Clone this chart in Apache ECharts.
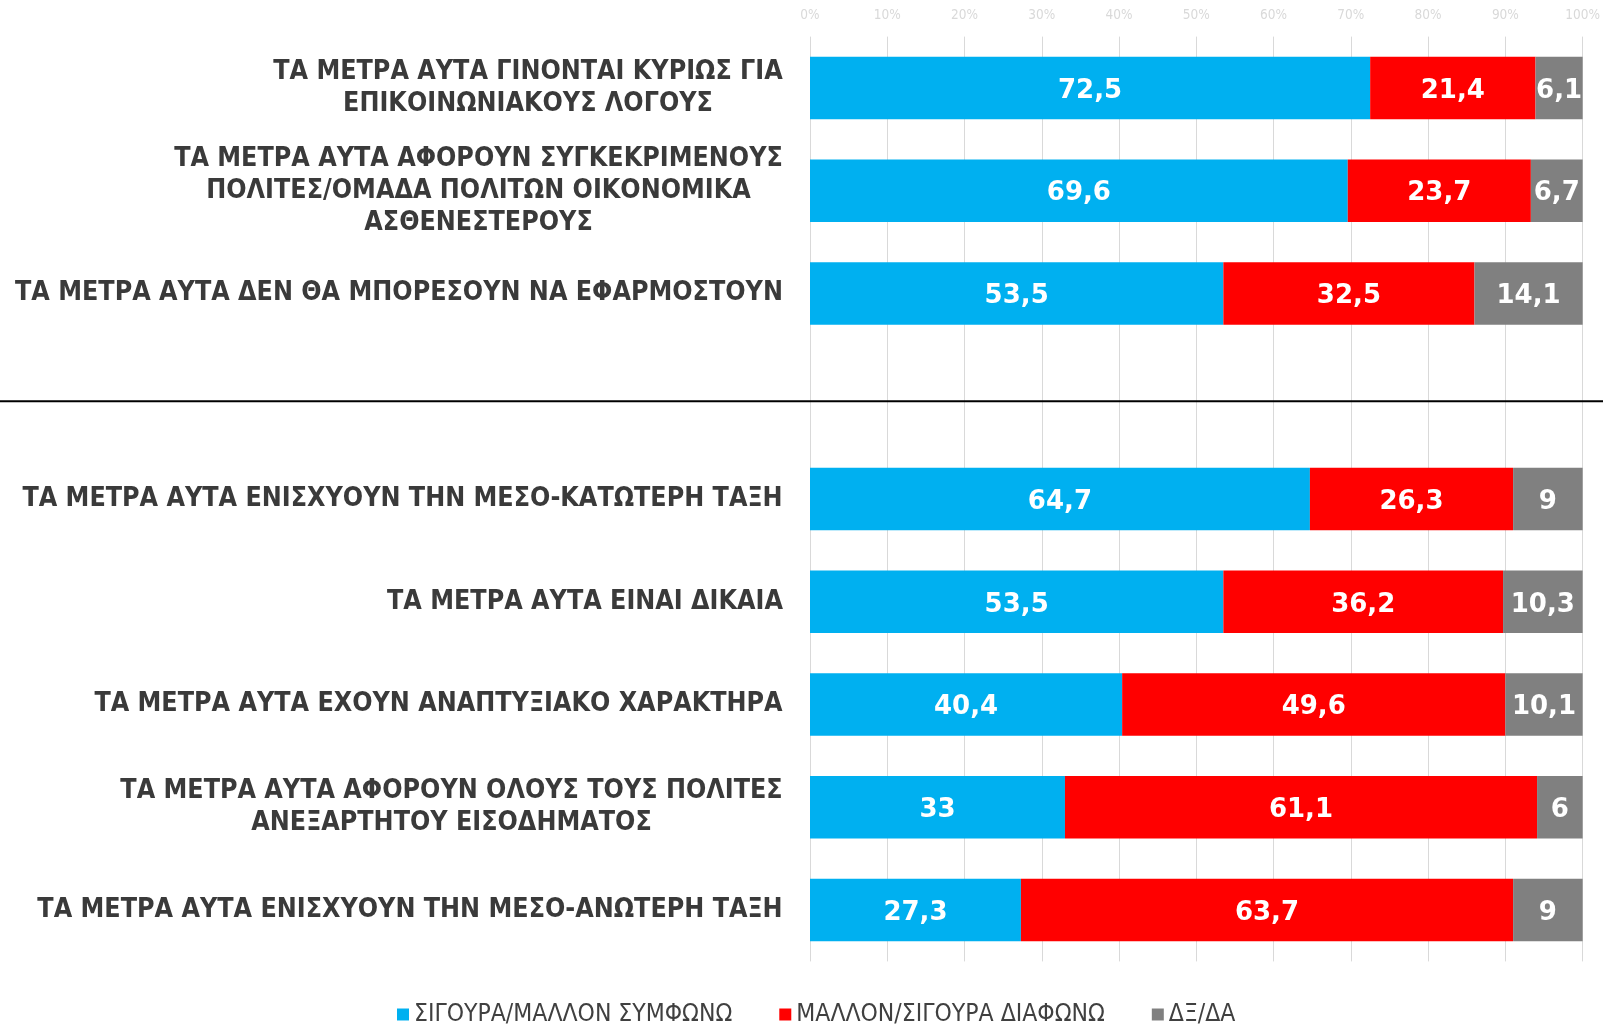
<!DOCTYPE html>
<html>
<head>
<meta charset="utf-8">
<script src="https://cdn.jsdelivr.net/npm/echarts@6/dist/echarts.min.js"></script>
<style>
  html, body { margin: 0; padding: 0; background: #fff; }
  #chart { width: 1603px; height: 1024px; }
</style>
</head>
<body>
<div id="chart"></div>
<script>
// κατηγορίες (η κενή είναι το διαχωριστικό)
const categories = [
  'ΤΑ ΜΕΤΡΑ ΑΥΤΑ ΓΙΝΟΝΤΑΙ ΚΥΡΙΩΣ ΓΙΑ\nΕΠΙΚΟΙΝΩΝΙΑΚΟΥΣ ΛΟΓΟΥΣ',
  'ΤΑ ΜΕΤΡΑ ΑΥΤΑ ΑΦΟΡΟΥΝ ΣΥΓΚΕΚΡΙΜΕΝΟΥΣ\nΠΟΛΙΤΕΣ/ΟΜΑΔΑ ΠΟΛΙΤΩΝ ΟΙΚΟΝΟΜΙΚΑ\nΑΣΘΕΝΕΣΤΕΡΟΥΣ',
  'ΤΑ ΜΕΤΡΑ ΑΥΤΑ ΔΕΝ ΘΑ ΜΠΟΡΕΣΟΥΝ ΝΑ ΕΦΑΡΜΟΣΤΟΥΝ',
  '',
  'ΤΑ ΜΕΤΡΑ ΑΥΤΑ ΕΝΙΣΧΥΟΥΝ ΤΗΝ ΜΕΣΟ-ΚΑΤΩΤΕΡΗ ΤΑΞΗ',
  'ΤΑ ΜΕΤΡΑ ΑΥΤΑ ΕΙΝΑΙ ΔΙΚΑΙΑ',
  'ΤΑ ΜΕΤΡΑ ΑΥΤΑ ΕΧΟΥΝ ΑΝΑΠΤΥΞΙΑΚΟ ΧΑΡΑΚΤΗΡΑ',
  'ΤΑ ΜΕΤΡΑ ΑΥΤΑ ΑΦΟΡΟΥΝ ΟΛΟΥΣ ΤΟΥΣ ΠΟΛΙΤΕΣ\nΑΝΕΞΑΡΤΗΤΟΥ ΕΙΣΟΔΗΜΑΤΟΣ',
  'ΤΑ ΜΕΤΡΑ ΑΥΤΑ ΕΝΙΣΧΥΟΥΝ ΤΗΝ ΜΕΣΟ-ΑΝΩΤΕΡΗ ΤΑΞΗ'
]

const seriesNames = ['ΣΙΓΟΥΡΑ/ΜΑΛΛΟΝ ΣΥΜΦΩΝΩ', 'ΜΑΛΛΟΝ/ΣΙΓΟΥΡΑ ΔΙΑΦΩΝΩ', 'ΔΞ/ΔΑ']
const agree = [72.5, 69.6, 53.5, null, 64.7, 53.5, 40.4, 33, 27.3]
const disagree = [21.4, 23.7, 32.5, null, 26.3, 36.2, 49.6, 61.1, 63.7]
const dkna = [6.1, 6.7, 14.1, null, 9, 10.3, 10.1, 6, 9]
const colors = ['#00B0F0', '#FF0000', '#808080']

const blankIndex = 3 // θέση της διαχωριστικής γραμμής

const labelFont = 'DejaVu Sans Condensed, Liberation Sans Narrow, DejaVu Sans, sans-serif'
const catFontSize = 26.6

// πλάτος της μεγαλύτερης γραμμής, για να κεντραριστούν οι γραμμές αλλά να μείνει δεξιά στοίχιση
let ctx = document.createElement('canvas').getContext('2d')
ctx.font = 'bold ' + catFontSize + 'px ' + labelFont
function widest (text) {
  let w = 0
  text.split('\n').forEach(line => {
    w = Math.max(w, ctx.measureText(line).width)
  })
  return Math.ceil(w)
}

let yData = categories.map(c => ({
  value: c,
  textStyle: {
    align: 'center',
    padding: [14, widest(c), 0, 0]
  }
}))

function makeSeries (name, values, color) {
  return {
    name: name,
    type: 'bar',
    stack: 'total',
    data: values,
    barCategoryGap: '39%',
    itemStyle: { color: color },
    label: {
      show: true,
      position: 'inside',
      offset: [0, 3],
      color: '#fff',
      fontFamily: 'DejaVu Sans, sans-serif',
      fontWeight: 'bold',
      fontSize: 26,
      formatter: p => String(p.value).replace('.', ',')
    }
  }
}

let chart = echarts.init(document.getElementById('chart'))

let option = {
  animation: false,
  color: colors,
  grid: { left: 810, right: 19, top: 36.6, bottom: 62.6 },
  legend: {
    data: seriesNames,
    left: 397,
    top: 1002,
    padding: 0,
    itemWidth: 12,
    itemHeight: 12,
    itemGap: 47,
    icon: 'rect',
    textStyle: { color: '#404040', fontSize: 24.5, fontFamily: labelFont }
  },
  xAxis: {
    type: 'value',
    position: 'top',
    min: 0,
    max: 100,
    interval: 10,
    axisLine: { show: false },
    axisTick: { show: false },
    axisLabel: {
      color: '#D9D9D9',
      fontSize: 13.5,
      fontFamily: labelFont,
      margin: 14,
      formatter: v => v + '%'
    },
    splitLine: { lineStyle: { color: '#D9D9D9', width: 1 } }
  },
  yAxis: {
    type: 'category',
    inverse: true,
    data: yData,
    axisLine: { show: false },
    axisTick: { show: false },
    axisLabel: {
      color: '#3A3A3A',
      fontSize: catFontSize,
      fontWeight: 'bold',
      fontFamily: labelFont,
      lineHeight: 32,
      margin: 27
    }
  },
  series: [
    makeSeries(seriesNames[0], agree, colors[0]),
    makeSeries(seriesNames[1], disagree, colors[1]),
    makeSeries(seriesNames[2], dkna, colors[2])
  ]
}

chart.setOption(option)

// διαχωριστική γραμμή στη θέση της κενής κατηγορίας
let sepY = chart.convertToPixel({ yAxisIndex: 0 }, blankIndex) + 5
chart.setOption({
  graphic: [{
    type: 'line',
    shape: { x1: 0, y1: sepY, x2: 1603, y2: sepY },
    style: { stroke: '#000', lineWidth: 2 },
    z: 10
  }]
})
</script>
</body>
</html>
